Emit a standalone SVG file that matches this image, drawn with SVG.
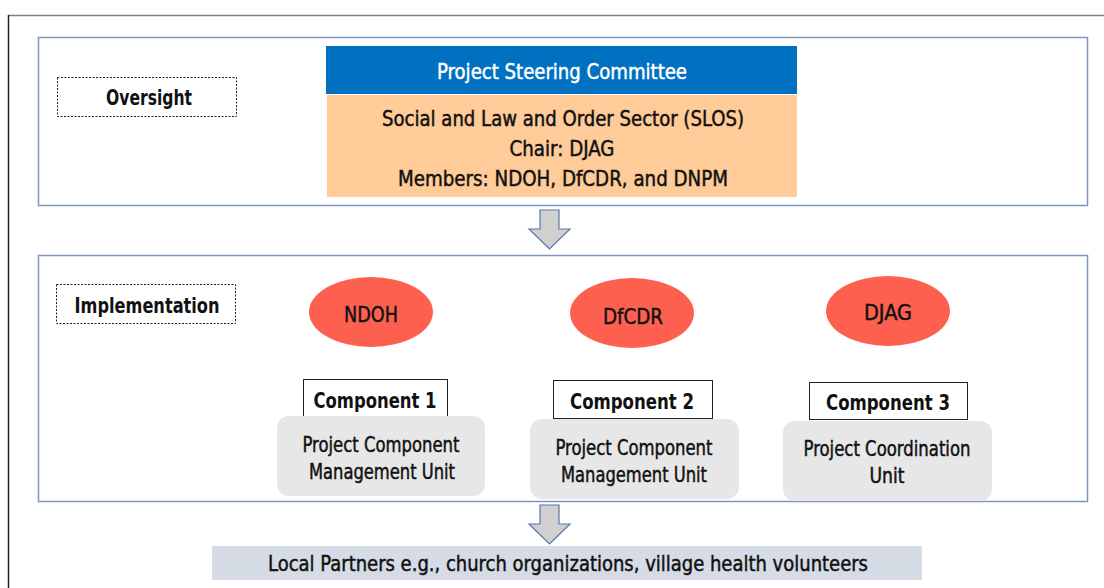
<svg xmlns="http://www.w3.org/2000/svg" width="1104" height="588" viewBox="0 0 1104 588">
  <style>
    text { font-family: "DejaVu Sans Condensed", "Liberation Sans", sans-serif; fill: #111; text-anchor: middle; }
    .lbl { font-size: 22px; font-weight: bold; }
    .body { font-size: 21px; stroke: #111; stroke-width: 0.45; }
    .inv { fill: #ffffff; stroke: #ffffff; }
    .tier { fill: #ffffff; stroke: #7f95c2; stroke-width: 1.5; }
    .tag { fill: #ffffff; stroke: #222; stroke-width: 1; stroke-dasharray: 2 1.5; }
    .agency { fill: #fe6050; }
    .comp { fill: #ffffff; stroke: #222; stroke-width: 1; }
    .unit { fill: #e7e7e7; }
    .flow { fill: #d0d0d0; stroke: #5a76a8; stroke-width: 1.2; }
  </style>

  <!-- page frame -->
  <line x1="8" y1="15.5" x2="1104" y2="15.5" stroke="#7f7f7f" stroke-width="1.5"/>
  <line x1="8.5" y1="15" x2="8.5" y2="588" stroke="#222" stroke-width="1.5"/>

  <!-- tiers -->
  <rect id="tier-oversight" class="tier" x="38.5" y="37.5" width="1049" height="168"/>
  <rect id="tier-implementation" class="tier" x="38.5" y="255.5" width="1049" height="246"/>

  <g id="label-oversight">
    <rect class="tag" x="57.5" y="77.5" width="179" height="39"/>
    <text class="lbl" x="149" y="105" textLength="86" lengthAdjust="spacingAndGlyphs">Oversight</text>
  </g>

  <g id="steering-committee">
    <rect x="326" y="46" width="471" height="48" fill="#0070c0"/>
    <text class="body inv" x="562" y="79" textLength="250" lengthAdjust="spacingAndGlyphs">Project Steering Committee</text>
    <rect x="327" y="95" width="470" height="102" fill="#ffcb98"/>
    <text class="body" x="563" y="126" textLength="362" lengthAdjust="spacingAndGlyphs">Social and Law and Order Sector (SLOS)</text>
    <text class="body" x="562" y="156" textLength="105" lengthAdjust="spacingAndGlyphs">Chair: DJAG</text>
    <text class="body" x="563" y="186" textLength="330" lengthAdjust="spacingAndGlyphs">Members: NDOH, DfCDR, and DNPM</text>
  </g>

  <g id="label-implementation">
    <rect class="tag" x="56.5" y="284.5" width="179" height="39"/>
    <text class="lbl" x="147" y="313" textLength="145" lengthAdjust="spacingAndGlyphs">Implementation</text>
  </g>

  <!-- implementing agencies -->
  <g id="agency-ndoh">
    <ellipse class="agency" cx="371" cy="312" rx="62" ry="35"/>
    <text class="body" x="371" y="322" textLength="54" lengthAdjust="spacingAndGlyphs">NDOH</text>
  </g>
  <g id="agency-dfcdr">
    <ellipse class="agency" cx="632" cy="313" rx="62" ry="35"/>
    <text class="body" x="633" y="324" textLength="60" lengthAdjust="spacingAndGlyphs">DfCDR</text>
  </g>
  <g id="agency-djag">
    <ellipse class="agency" cx="888" cy="311" rx="62" ry="35"/>
    <text class="body" x="888" y="320" textLength="48" lengthAdjust="spacingAndGlyphs">DJAG</text>
  </g>

  <!-- components -->
  <g id="component-1">
    <rect class="comp" x="303.5" y="379.5" width="144" height="38"/>
    <text class="lbl" x="375" y="408" textLength="123" lengthAdjust="spacingAndGlyphs">Component 1</text>
    <rect class="unit" x="277" y="416" width="208" height="80" rx="12"/>
    <text class="body" x="381" y="452" textLength="157" lengthAdjust="spacingAndGlyphs">Project Component</text>
    <text class="body" x="382" y="479" textLength="146" lengthAdjust="spacingAndGlyphs">Management Unit</text>
  </g>
  <g id="component-2">
    <rect class="comp" x="553.5" y="380.5" width="159" height="38"/>
    <text class="lbl" x="632" y="409" textLength="124" lengthAdjust="spacingAndGlyphs">Component 2</text>
    <rect class="unit" x="530" y="419" width="209" height="80" rx="12"/>
    <text class="body" x="634" y="455" textLength="157" lengthAdjust="spacingAndGlyphs">Project Component</text>
    <text class="body" x="634" y="482" textLength="146" lengthAdjust="spacingAndGlyphs">Management Unit</text>
  </g>
  <g id="component-3">
    <rect class="comp" x="809.5" y="382.5" width="158" height="37"/>
    <text class="lbl" x="888" y="410" textLength="124" lengthAdjust="spacingAndGlyphs">Component 3</text>
    <rect class="unit" x="783" y="421" width="209" height="80" rx="12"/>
    <text class="body" x="887" y="456" textLength="167" lengthAdjust="spacingAndGlyphs">Project Coordination</text>
    <text class="body" x="887" y="483" textLength="35" lengthAdjust="spacingAndGlyphs">Unit</text>
  </g>

  <g id="local-partners">
    <rect x="212" y="546" width="710" height="34" fill="#d6dce5"/>
    <text class="body" x="568" y="571" textLength="600" lengthAdjust="spacingAndGlyphs">Local Partners e.g., church organizations, village health volunteers</text>
  </g>

  <!-- flow arrows between tiers -->
  <g id="connectors">
    <path class="flow" d="M540,210 H559 V229 H570 L549.5,249 L529,229 H540 Z"/>
    <path class="flow" d="M540,505 H559 V524 H570 L549.5,544 L529,524 H540 Z"/>
  </g>
</svg>
